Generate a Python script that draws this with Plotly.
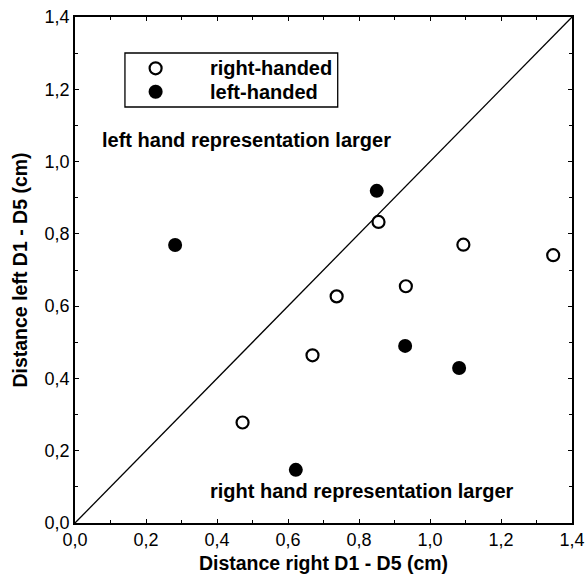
import plotly.graph_objects as go

# ---- data ----
right_handed_x = [0.855, 1.094, 1.347, 0.932, 0.737, 0.669, 0.472]
right_handed_y = [0.833, 0.770, 0.741, 0.655, 0.627, 0.464, 0.278]
left_handed_x = [0.850, 0.282, 0.930, 1.082, 0.622]
left_handed_y = [0.919, 0.769, 0.490, 0.429, 0.147]
series_names = ["right-handed", "left-handed"]
axis_range = [0.0, 1.4]
tick_values = [0.0, 0.2, 0.4, 0.6, 0.8, 1.0, 1.2, 1.4]

FONT = "Liberation Sans, Arial, Helvetica, sans-serif"

fig = go.Figure()

# identity line y = x across the axis range
fig.add_trace(go.Scatter(
    x=axis_range, y=axis_range, mode="lines",
    line=dict(color="black", width=1.3), showlegend=False, hoverinfo="skip"))

fig.add_trace(go.Scatter(
    x=right_handed_x, y=right_handed_y, mode="markers", name=series_names[0],
    marker=dict(symbol="circle", size=12, color="white",
                line=dict(color="black", width=2.2))))

fig.add_trace(go.Scatter(
    x=left_handed_x, y=left_handed_y, mode="markers", name=series_names[1],
    marker=dict(symbol="circle", size=14, color="black",
                line=dict(color="black", width=0))))

axis_common = dict(
    range=axis_range, tickvals=tick_values, tickformat=".1f",
    showgrid=False, zeroline=False,
    showline=True, linecolor="black", linewidth=1.5, mirror="allticks",
    ticks="inside", ticklen=4, tickwidth=1, tickcolor="black",
    minor=dict(dtick=0.1, ticks="inside", ticklen=3, tickwidth=1, tickcolor="black"),
    tickfont=dict(family=FONT, size=18, color="black"),
    ticklabeloverflow="allow",
    fixedrange=True,
)

fig.update_xaxes(**axis_common,
                 title=dict(text="<b>Distance right D1 - D5 (cm)</b>",
                            font=dict(family=FONT, size=19.5, color="black"),
                            standoff=7))
fig.update_yaxes(**axis_common,
                 title=dict(text="<b>Distance left D1 - D5 (cm)</b>",
                            font=dict(family=FONT, size=19.5, color="black"),
                            standoff=12))

# region annotations
fig.add_annotation(text="<b>left hand representation larger</b>",
                   xref="paper", yref="paper", x=0.0503, y=0.757,
                   xanchor="left", yanchor="middle", showarrow=False,
                   font=dict(family=FONT, size=20, color="black"))
fig.add_annotation(text="<b>right hand representation larger</b>",
                   xref="paper", yref="paper", x=0.268, y=0.0638,
                   xanchor="left", yanchor="middle", showarrow=False,
                   font=dict(family=FONT, size=20, color="black"))

# legend box drawn as in the original figure
fig.add_shape(type="rect", xref="paper", yref="paper",
              x0=0.1005, x1=0.5286, y0=0.8221, y1=0.9289,
              line=dict(color="black", width=1.3), fillcolor="white", layer="above")
legend_rows = [0.8986, 0.8524]
legend_styles = [dict(fill="white", r=6, lw=2.2), dict(fill="black", r=7, lw=0.1)]
for name, yrow, st in zip(series_names, legend_rows, legend_styles):
    fig.add_shape(type="circle", xref="paper", yref="paper",
                  xsizemode="pixel", ysizemode="pixel",
                  xanchor=0.1622, yanchor=yrow,
                  x0=-st["r"], x1=st["r"], y0=-st["r"], y1=st["r"],
                  fillcolor=st["fill"],
                  line=dict(color="black", width=st["lw"]),
                  layer="above")
    fig.add_annotation(text="<b>" + name + "</b>", xref="paper", yref="paper",
                       x=0.268, y=yrow, xanchor="left", yanchor="middle",
                       showarrow=False,
                       font=dict(family=FONT, size=20, color="black"))

fig.update_layout(
    width=586, height=581,
    margin=dict(l=75, r=13.5, t=17, b=58, autoexpand=False),
    paper_bgcolor="white", plot_bgcolor="white",
    separators=", ",
    showlegend=False,
)

# remove the browser's default 8px body margin so the figure fills the window
fig.write_html("out.html",
               config={"displayModeBar": False},
               post_script="document.body.style.margin='0';document.body.style.overflow='hidden';")
